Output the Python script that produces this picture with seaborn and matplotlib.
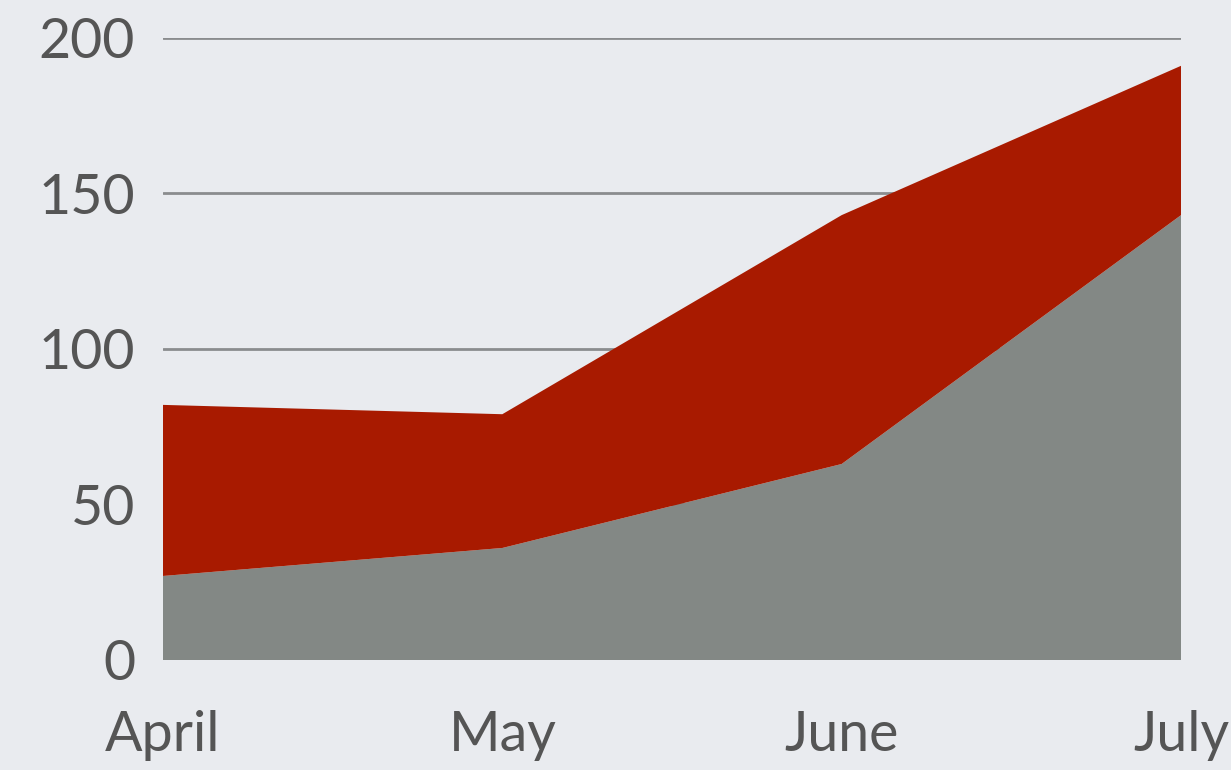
import matplotlib
matplotlib.use("Agg")
import matplotlib.pyplot as plt
import seaborn as sns
import numpy as np

# data
months = ["April", "May", "June", "July"]
gray_vals = [27, 36, 63, 143]
red_vals = [55, 43, 80, 48]
y_ticks = [0, 50, 100, 150, 200]

sns.set_style("white")
plt.rcParams['font.family'] = ['Lato', 'DejaVu Sans']

bg = "#e9ebef"
fig = plt.figure(figsize=(12.31, 7.70), dpi=100, facecolor=bg)
ax = fig.add_axes([0.1324, 0.1429, 0.827, 0.808])
ax.set_facecolor(bg)

x = np.arange(len(months))
ax.stackplot(x, gray_vals, red_vals, colors=["#838885", "#a81a00"],
             linewidth=0, edgecolor="none", zorder=3)

ax.set_xlim(0, len(months) - 1)
ax.set_ylim(0, 200)
ax.set_yticks(y_ticks)
ax.set_xticks(x)
ax.set_xticklabels(months)
for yv in y_ticks:
    ax.axhline(yv, color="#8a8c8e", lw=2, zorder=1)

for s in ax.spines.values():
    s.set_visible(False)
ax.tick_params(axis='both', length=0, labelsize=40, labelcolor="#555555")
ax.tick_params(axis='y', pad=20)
ax.tick_params(axis='x', pad=36)
for lbl in ax.get_yticklabels() + ax.get_xticklabels():
    lbl.set_fontweight('normal')

fig.savefig("out.png", dpi=100, facecolor=bg)
